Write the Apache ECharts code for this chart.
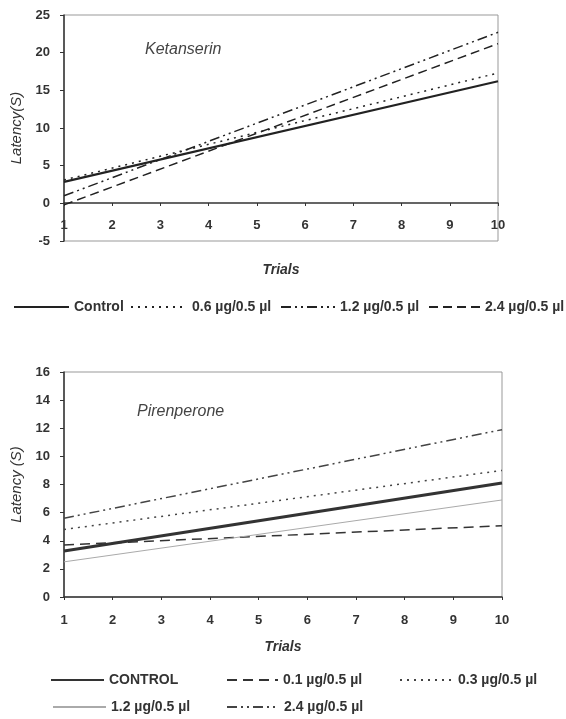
<!DOCTYPE html>
<html lang="en">
<head>
    <meta charset="UTF-8">
    <title>Latency by trials</title>
    <script src="https://cdn.jsdelivr.net/npm/echarts@6/dist/echarts.min.js"></script>
    <style>
        html, body { margin: 0; padding: 0; background: #fff; }
        #chart { width: 566px; height: 719px; }
    </style>
</head>
<body>
<div id="chart"></div>
<script>
    // trial numbers at the two ends of each fitted line
    var trials = [1, 10];

    // Ketanserin panel
    var ketNames = ['Control', '0.6 µg/0.5 µl', '1.2 µg/0.5 µl', '2.4 µg/0.5 µl'];
    var ketControl = [2.85, 16.2];
    var ket06 = [3.1, 17.3];
    var ket12 = [1.0, 22.7];
    var ket24 = [-0.2, 21.2];

    // Pirenperone panel
    var pirNames = ['CONTROL', '0.1 µg/0.5 µl', '0.3 µg/0.5 µl', '1.2 µg/0.5 µl', '2.4 µg/0.5 µl'];
    var pirControl = [3.27, 8.1];
    var pir01 = [3.7, 5.07];
    var pir03 = [4.8, 9.0];
    var pir12 = [2.5, 6.9];
    var pir24 = [5.6, 11.9];

    var ketTicks = [-5, 25, 5];
    var pirTicks = [0, 16, 2];

    var FONT = '"Liberation Sans", Arial, sans-serif';

    function pairs(ys) {
        return trials.map(function (t, i) { return [t, ys[i]]; });
    }

    // series names need to be unique across both panels, the legend shows the text after "|"
    function line(key, label, ys, axis, width, type, color) {
        color = color || '#222';
        return {
            name: key + '|' + label,
            type: 'line',
            xAxisIndex: axis,
            yAxisIndex: axis,
            data: pairs(ys),
            symbol: 'none',
            silent: true,
            color: color,
            lineStyle: { color: color, width: width, type: type }
        };
    }

    function legend(key, label, left, top, w) {
        return {
            data: [key + '|' + label],
            left: left,
            top: top,
            padding: 0,
            itemWidth: w,
            itemHeight: 14,
            itemGap: 0,
            selectedMode: false,
            itemStyle: { opacity: 0 },
            formatter: function (n) { return n.split('|')[1]; },
            textStyle: { fontFamily: FONT, fontSize: 14, fontWeight: 'bold', color: '#333' }
        };
    }

    function xAxis(grid, offset, gap, margin) {
        return {
            type: 'value', gridIndex: grid, min: 1, max: 10, interval: 1,
            offset: offset,
            name: 'Trials', nameLocation: 'middle', nameGap: gap,
            nameTextStyle: { fontFamily: FONT, fontSize: 14, fontWeight: 'bold', fontStyle: 'italic', color: '#333' },
            axisLine: { onZero: false, lineStyle: { color: '#333', width: 1.5 } },
            axisTick: { show: true, length: 3, lineStyle: { color: '#333' } },
            axisLabel: { margin: margin, fontFamily: FONT, fontSize: 13, fontWeight: 'bold', color: '#333' },
            splitLine: { show: false }
        };
    }

    function yAxis(grid, ticks, name) {
        return {
            type: 'value', gridIndex: grid, min: ticks[0], max: ticks[1], interval: ticks[2],
            name: name, nameLocation: 'middle', nameGap: 35,
            nameTextStyle: { fontFamily: FONT, fontSize: 15, fontStyle: 'italic', color: '#333' },
            axisLine: { show: true, onZero: false, lineStyle: { color: '#333', width: 1.5 } },
            axisTick: { show: true, length: 4, lineStyle: { color: '#333' } },
            axisLabel: { margin: 14, fontFamily: FONT, fontSize: 13, fontWeight: 'bold', color: '#333' },
            splitLine: { show: false }
        };
    }

    var chart = echarts.init(document.getElementById('chart'), null, { renderer: 'canvas' });

    chart.setOption({
        animation: false,
        backgroundColor: '#fff',
        title: [
            { text: 'Ketanserin', left: 145, top: 42, padding: 0,
              textStyle: { fontFamily: FONT, fontSize: 16, fontStyle: 'italic', fontWeight: 'normal', color: '#444' } },
            { text: 'Pirenperone', left: 137, top: 404, padding: 0,
              textStyle: { fontFamily: FONT, fontSize: 16, fontStyle: 'italic', fontWeight: 'normal', color: '#444' } }
        ],
        grid: [
            { left: 64, top: 15, width: 434, height: 226, show: true, borderColor: '#999', borderWidth: 1 },
            { left: 64, top: 372, width: 438, height: 225, show: true, borderColor: '#999', borderWidth: 1 }
        ],
        // top panel: the trials axis sits on the zero line (38 px above the -5 border)
        xAxis: [xAxis(0, -38, 60, 16), xAxis(1, 0, 43, 17)],
        yAxis: [yAxis(0, ketTicks, 'Latency(S)'), yAxis(1, pirTicks, 'Latency (S)')],
        legend: [
            legend('k0', ketNames[0], 13, 300, 55),
            legend('k1', ketNames[1], 130, 300, 56),
            legend('k2', ketNames[2], 280, 300, 54),
            legend('k3', ketNames[3], 428, 300, 51),
            legend('p0', pirNames[0], 50, 673, 53),
            legend('p1', pirNames[1], 226, 673, 51),
            legend('p2', pirNames[2], 399, 673, 53),
            legend('p3', pirNames[3], 52, 700, 53),
            legend('p4', pirNames[4], 226, 700, 52)
        ],
        series: [
            line('k0', ketNames[0], ketControl, 0, 2.2, 'solid'),
            line('k1', ketNames[1], ket06, 0, 1.5, [2, 5]),
            line('k2', ketNames[2], ket12, 0, 1.5, [10, 4, 2, 4, 2, 4]),
            line('k3', ketNames[3], ket24, 0, 1.5, [9, 5]),
            line('p0', pirNames[0], pirControl, 1, 3, 'solid', '#333'),
            line('p1', pirNames[1], pir01, 1, 1.5, [10, 6], '#333'),
            line('p2', pirNames[2], pir03, 1, 1.5, [2, 5], '#444'),
            line('p3', pirNames[3], pir12, 1, 1, 'solid', '#aaa'),
            line('p4', pirNames[4], pir24, 1, 1.5, [10, 4, 2, 4, 2, 4], '#444')
        ]
    });
</script>
</body>
</html>
